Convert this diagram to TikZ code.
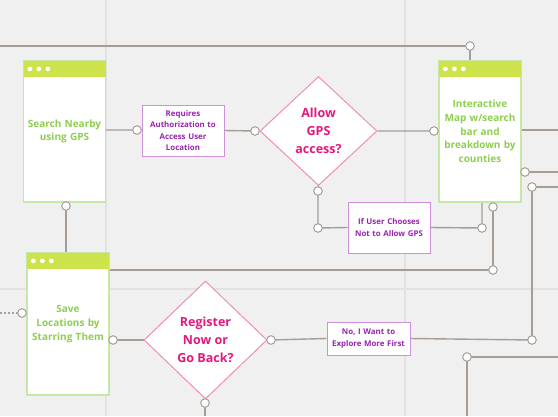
\documentclass[tikz,border=0pt]{standalone}
\usepackage{fontspec}
\setmainfont{Open Sans}
\usetikzlibrary{shapes.geometric,calc}
\definecolor{bg}{HTML}{F0F0F0}
\definecolor{gridc}{HTML}{E2E2E2}
\definecolor{conn}{HTML}{A69E96}
\definecolor{hdr}{HTML}{CEE24C}
\definecolor{winborder}{HTML}{C6E8A6}
\definecolor{wintext}{HTML}{8DCF4E}
\definecolor{dmborder}{HTML}{F08DB8}
\definecolor{dmtext}{HTML}{E2197B}
\definecolor{bxborder}{HTML}{CF8FDD}
\definecolor{bxtext}{HTML}{9B22B2}
\tikzset{
  window/.style={draw=winborder, line width=1.2pt, fill=white, minimum width=82pt, minimum height=141pt,
    text width=80pt, align=center, text=wintext, font=\bfseries\fontsize{10}{13.7}\selectfont, inner sep=0pt},
  decision/.style={diamond, draw=dmborder, line width=1pt, fill=white, inner sep=0pt, text=dmtext,
    align=center, font=\bfseries\fontsize{12.5}{18}\selectfont},
  labelbox/.style={draw=bxborder, line width=1pt, fill=white, minimum width=82pt, text width=80pt,
    align=center, text=bxtext, inner sep=0pt, font=\bfseries\fontsize{7.9}{11.3}\selectfont},
  conline/.style={draw=conn, line width=1.4pt},
  endpt/.style={circle, draw=conn, fill=white, line width=1pt, minimum size=8.6pt, inner sep=0pt},
}
\newcommand{\winheader}[1]{%
  \fill[hdr] ($(#1.north west)+(0.6pt,-0.6pt)$) rectangle ($(#1.north east)+(-0.6pt,-17pt)$);
  \foreach \dx in {7,16,25} \fill[white] ($(#1.north west)+(\dx pt,-8.5pt)$) circle (2.4pt);
}
\begin{document}
\begin{tikzpicture}[x=1pt,y=-1pt]
\useasboundingbox (0,0) rectangle (558,416);
\fill[bg] (0,0) rectangle (558,416);
% grid
\draw[gridc, line width=1.8pt] (106,0) -- (106,416);
\draw[gridc, line width=1.8pt] (405,0) -- (405,416);
\draw[gridc, line width=1.8pt] (0,289) -- (558,289);

% nodes
\node[window] (sn) at (64.5,131.5) {Search Nearby\\using GPS};
\node[window] (im) at (480,131.5) {Interactive\\Map w/search\\bar and\\breakdown by\\counties};
\node[window, minimum height=142pt] (sl) at (68,324) {Save\\Locations by\\Starring Them};
\node[labelbox, minimum height=51pt] (req) at (183,130.5) {Requires\\Authorization to\\Access User\\Location};
\node[decision, minimum width=117pt, minimum height=109pt] (gps) at (318.5,131) {Allow\\GPS\\access?};
\node[labelbox, minimum height=51pt] (iu) at (389,227.5) {If User Chooses\\Not to Allow GPS};
\node[decision, minimum width=123pt, minimum height=118pt] (reg) at (205.5,340) {Register\\Now or\\Go Back?};
\node[labelbox, minimum width=83pt, minimum height=33pt] (no) at (368.5,338.5) {No, I Want to\\Explore More First};

% free ends
\coordinate (e1) at (0,46);
\coordinate (e2) at (558,130);
\coordinate (e3) at (558,172);
\coordinate (e4) at (558,187);
\coordinate (e5) at (0,313);
\coordinate (e6) at (205,416);
\coordinate (e7) at (558,357);
\coordinate (e8) at (467,416);

% connectors
\draw[conline] (e1) -- (470,46) coordinate (p4) -- (p4 |- im.north);
\draw[conline] (sn.east |- 0,130) -- (137,130) coordinate (p1) -- (req.west);
\draw[conline] (req.east) -- (255,131) coordinate (p2) -- (gps.west);
\draw[conline] (gps.east) -- (434,131) coordinate (p3) -- (im.west);
\draw[conline] (im.east |- e2) -- (e2);
\draw[conline] (525,172) coordinate (p11) -- (e3);
\draw[conline] (e4) -- (532,187) coordinate (p12) -- (532,340) coordinate (p13);
\draw[conline] (gps.south) -- (318,191) coordinate (p6) -- (318,228) coordinate (p7) -- (iu.west);
\draw[conline] (iu.east) -- (482,228) coordinate (p8) -- (p8 |- im.south);
\draw[conline] (493,207) coordinate (p9) -- (493,270) coordinate (p10) -- (sl.east |- p10);
\draw[conline] (66,206) coordinate (p5) -- (p5 |- sl.north);
\draw[conline] (p5) -- (p5 |- sn.south);
\draw[conline, dash pattern=on 2pt off 2pt] (e5) -- (22,313) coordinate (p14);
\draw[conline] (113,340) coordinate (p15) -- (reg.west);
\draw[conline] (reg.east) -- (271,340) coordinate (p16) -- (no.west);
\draw[conline] (no.east) -- (p13);
\draw[conline] (205,403) coordinate (p17) -- (e6);
\draw[conline] (p17) -- (reg.south);
\draw[conline] (e7) -- (467,357) coordinate (p18) -- (e8);

% redraw windows on top
\node[window] at (sn) {Search Nearby\\using GPS};
\node[window] at (im) {Interactive\\Map w/search\\bar and\\breakdown by\\counties};
\node[window, minimum height=142pt] at (sl) {Save\\Locations by\\Starring Them};
\winheader{sn}
\winheader{im}
\winheader{sl}

% endpoint circles
\foreach \p in {p1,p2,p3,p4,p5,p6,p7,p8,p9,p10,p11,p12,p13,p14,p15,p16,p17,p18}
  \node[endpt] (c\p) at (\p) {};
\end{tikzpicture}
\end{document}
